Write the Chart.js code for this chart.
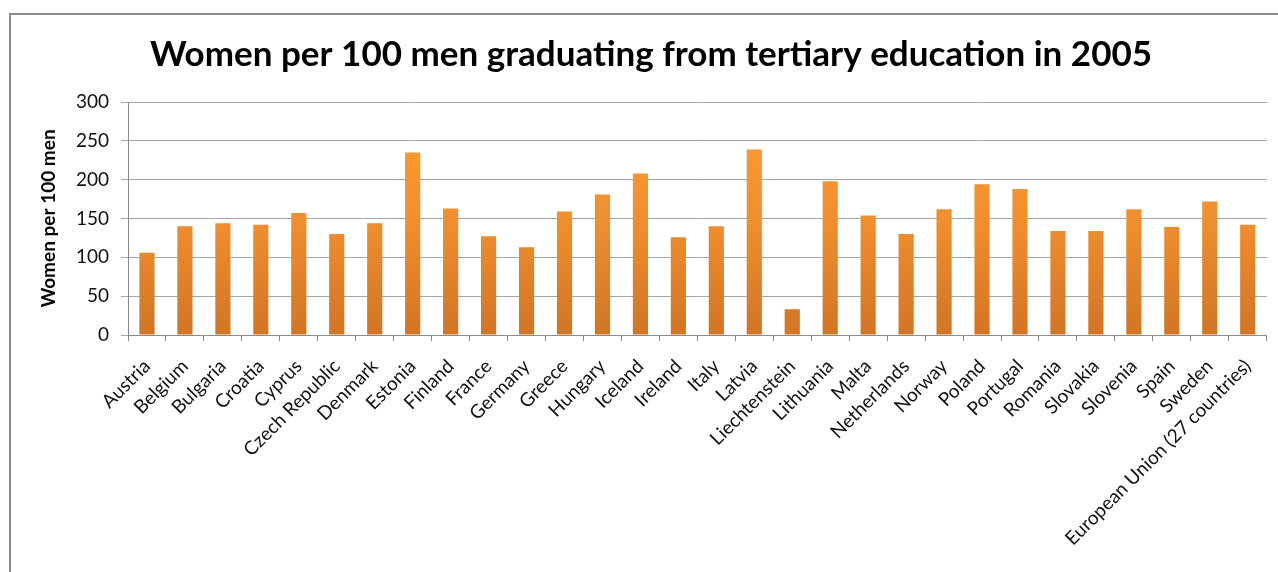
<!DOCTYPE html>
<html>
<head>
<meta charset="utf-8">
<script src="https://cdn.jsdelivr.net/npm/chart.js@4/dist/chart.umd.min.js"></script>
<style>
html,body{margin:0;padding:0;background:#fff;}
#wrap{width:1278px;height:572px;position:relative;}
</style>
</head>
<body>
<div id="wrap"><canvas id="c" width="1278" height="572"></canvas></div>
<script>
const categories = ["Austria","Belgium","Bulgaria","Croatia","Cyprus","Czech Republic","Denmark","Estonia","Finland","France","Germany","Greece","Hungary","Iceland","Ireland","Italy","Latvia","Liechtenstein","Lithuania","Malta","Netherlands","Norway","Poland","Portugal","Romania","Slovakia","Slovenia","Spain","Sweden","European Union (27 countries)"];
const womenPer100Men = [106,140,144,142,157,130,144,235,163,127,113,159,181,208,126,140,239,33,198,154,130,162,194,188,134,134,162,139,172,142];
const yTicks = [0,50,100,150,200,250,300];
const titleText = "Women per 100 men graduating from tertiary education in 2005";
const yAxisTitle = "Women per 100 men";

const FONT = "Lato, 'Open Sans', sans-serif";

const framePlugin = {
  id: 'frame',
  beforeDraw(chart) {
    const ctx = chart.ctx;
    ctx.save();
    ctx.fillStyle = '#ffffff';
    ctx.fillRect(0, 0, chart.width, chart.height);
    ctx.strokeStyle = '#8c8c8c';
    ctx.lineWidth = 2;
    ctx.strokeRect(10, 14, chart.width + 20, chart.height + 20);
    ctx.restore();
  }
};

function barGradient(context) {
  const chart = context.chart;
  const area = chart.chartArea;
  if (!area) return '#f39430';
  const y0 = chart.scales.y.getPixelForValue(0);
  const g = chart.ctx.createLinearGradient(0, area.top, 0, y0);
  g.addColorStop(0, '#ff9d35');
  g.addColorStop(0.5, '#f08f2f');
  g.addColorStop(1, '#d17526');
  return g;
}

new Chart(document.getElementById('c'), {
  type: 'bar',
  data: {
    labels: categories,
    datasets: [{
      data: womenPer100Men,
      backgroundColor: barGradient,
      borderWidth: 0,
      barPercentage: 0.4,
      categoryPercentage: 1.0
    }]
  },
  plugins: [framePlugin],
  options: {
    responsive: false,
    animation: false,
    devicePixelRatio: 1,
    layout: { padding: { left: 33, right: 9, top: 0, bottom: 0 } },
    plugins: {
      legend: { display: false },
      tooltip: { enabled: false },
      title: {
        display: true,
        text: titleText,
        color: '#000000',
        font: { family: FONT, size: 35, weight: 'bold' },
        padding: { top: 34, bottom: 26 }
      }
    },
    scales: {
      y: {
        min: 0, max: 300,
        afterBuildTicks(scale) { scale.ticks = yTicks.map(v => ({ value: v })); },
        afterFit(scale) { scale.width = 95; },
        border: { display: true, color: '#8a8a8a', width: 1 },
        grid: { color: '#a6a6a6', lineWidth: 1, tickLength: 7, drawTicks: true },
        ticks: { color: '#111111', font: { family: FONT, size: 19 }, padding: 12 },
        title: {
          display: true, text: yAxisTitle, color: '#000000',
          font: { family: FONT, size: 19, weight: 'bold' },
          padding: { top: 4, bottom: 0 }
        }
      },
      x: {
        afterFit(scale) { scale.height = 237; },
        border: { display: true, color: '#8a8a8a', width: 1 },
        grid: { display: true, drawOnChartArea: false, drawTicks: true, tickLength: 6, color: '#8a8a8a', offset: true },
        ticks: { color: '#111111', font: { family: FONT, size: 19 }, minRotation: 45, maxRotation: 45, autoSkip: false, padding: 14 }
      }
    }
  }
});
</script>
</body>
</html>
